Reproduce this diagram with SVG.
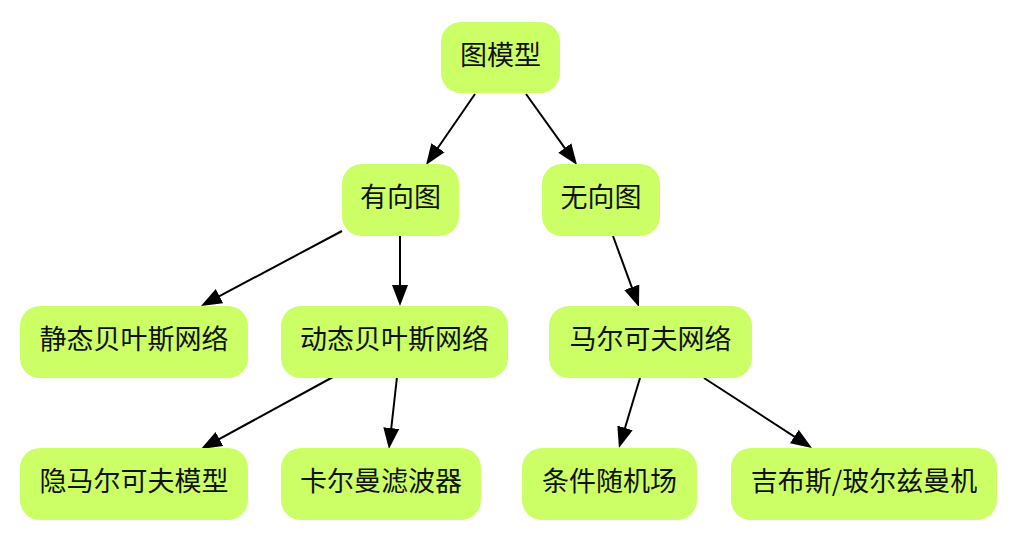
<svg xmlns="http://www.w3.org/2000/svg" width="1012" height="536" viewBox="0 0 1012 536">
<style>
.n rect{fill:#ccff66;stroke:none}
.n text{font-family:"Noto Sans CJK SC","Noto Sans",sans-serif;font-size:27px;fill:#111;text-anchor:middle}
.e line{stroke:#000;stroke-width:2;marker-end:url(#ah)}
</style>
<defs>
<marker id="ah" markerUnits="userSpaceOnUse" markerWidth="24" markerHeight="18" viewBox="0 -9 24 18" refX="17" refY="0" orient="auto">
<path d="M0,-8 L21,0 L0,8 z" fill="#000"/>
</marker>
</defs>
<rect width="1012" height="536" fill="#fff"/>
<g id="edges" class="e">
<line x1="475" y1="94" x2="428.3" y2="161.7"/>
<line x1="526" y1="94" x2="574.7" y2="161.8"/>
<line x1="342" y1="231" x2="204.5" y2="304.1"/>
<line x1="400" y1="236" x2="400" y2="302"/>
<line x1="333" y1="377" x2="204.5" y2="447.1"/>
<line x1="397" y1="377" x2="389.4" y2="445"/>
<line x1="613" y1="236" x2="637.6" y2="303.2"/>
<line x1="640" y1="378" x2="620.1" y2="444.2"/>
<line x1="704" y1="378" x2="808.6" y2="445.8"/>
</g>
<g id="n_root" class="n"><rect x="441" y="22" width="119" height="71" rx="20"/><text x="500.5" y="65">图模型</text></g>
<g id="n_directed" class="n"><rect x="342" y="164" width="117" height="72" rx="20"/><text x="400.5" y="207">有向图</text></g>
<g id="n_undirected" class="n"><rect x="542" y="164" width="118" height="72" rx="20"/><text x="601" y="207">无向图</text></g>
<g id="n_static_bn" class="n"><rect x="20" y="306" width="228" height="72" rx="20"/><text x="134" y="349">静态贝叶斯网络</text></g>
<g id="n_dynamic_bn" class="n"><rect x="281" y="306" width="227" height="72" rx="20"/><text x="394.5" y="349">动态贝叶斯网络</text></g>
<g id="n_markov_net" class="n"><rect x="549" y="306" width="203" height="72" rx="20"/><text x="650.5" y="349">马尔可夫网络</text></g>
<g id="n_hmm" class="n"><rect x="20" y="448" width="228" height="72" rx="20"/><text x="134" y="491">隐马尔可夫模型</text></g>
<g id="n_kalman" class="n"><rect x="281" y="448" width="200" height="72" rx="20"/><text x="381" y="491">卡尔曼滤波器</text></g>
<g id="n_crf" class="n"><rect x="522" y="448" width="175" height="72" rx="20"/><text x="609.5" y="491">条件随机场</text></g>
<g id="n_gibbs" class="n"><rect x="731" y="448" width="266" height="72" rx="20"/><text x="864" y="491">吉布斯/玻尔兹曼机</text></g>
</svg>
